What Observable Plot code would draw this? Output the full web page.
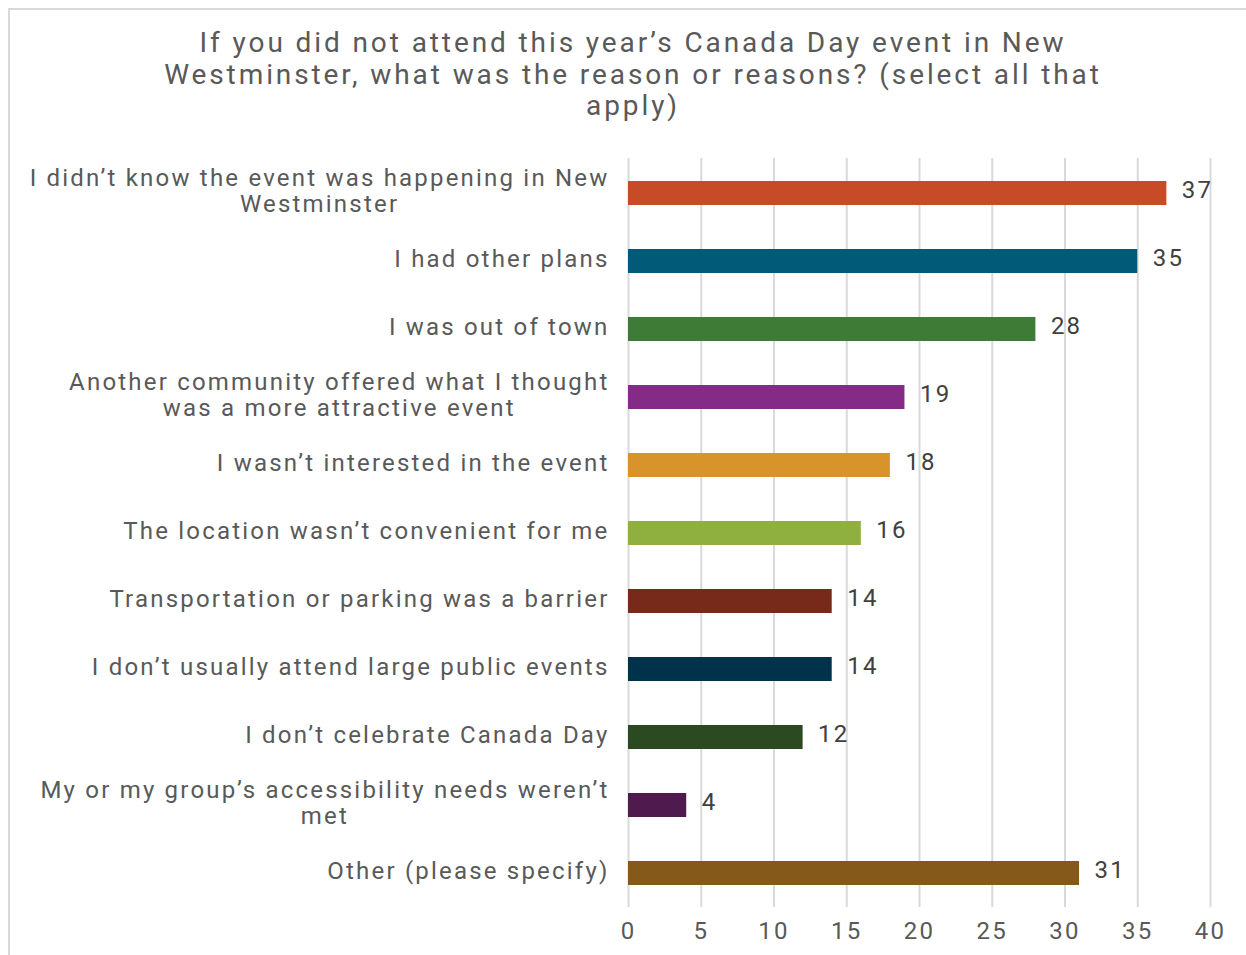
<!DOCTYPE html>
<html>
<head>
<meta charset="utf-8">
<script src="https://cdn.jsdelivr.net/npm/d3@7"></script>
<script src="https://cdn.jsdelivr.net/npm/@observablehq/plot@0.6"></script>
<style>
  html, body { margin: 0; padding: 0; background: #fff; }
  body { width: 1246px; height: 955px; overflow: hidden; position: relative; font-family: Roboto, "Liberation Sans", sans-serif; }
  #frame { position: absolute; left: 8px; top: 8px; width: 1300px; height: 1000px; border: 2px solid #d9d9d9; box-sizing: border-box; }
  #title { position: absolute; left: 0; top: 27px; width: 1266px; text-align: center; font-size: 28px; line-height: 31.5px; color: #595959; letter-spacing: 2.9px; }
  #chart { position: absolute; left: 0; top: 140px; }
  #chart svg text { letter-spacing: 2.2px; }
</style>
</head>
<body>
<div id="frame"></div>
<div id="title">If you did not attend this year’s Canada Day event in New<br>Westminster, what was the reason or reasons? (select all that<br>apply)</div>
<div id="chart"></div>
<script>
const categories = [
  "I didn’t know the event was happening in New\nWestminster",
  "I had other plans",
  "I was out of town",
  "Another community offered what I thought\nwas a more attractive event",
  "I wasn’t interested in the event",
  "The location wasn’t convenient for me",
  "Transportation or parking was a barrier",
  "I don’t usually attend large public events",
  "I don’t celebrate Canada Day",
  "My or my group’s accessibility needs weren’t\nmet",
  "Other (please specify)"
];
const counts = [37, 35, 28, 19, 18, 16, 14, 14, 12, 4, 31];
const barColors = ["#C84B27", "#005A78", "#3E7B37", "#842A87", "#D9932B", "#8FAF3E", "#772A1A", "#003349", "#2C4A22", "#4F1A4E", "#845919"];
const xTicks = [0, 5, 10, 15, 20, 25, 30, 35, 40];

const data = categories.map((c, i) => ({category: c, value: counts[i], color: barColors[i]}));

const chart = Plot.plot({
  width: 1246,
  height: 815,
  marginLeft: 628,
  marginRight: 36,
  marginTop: 18,
  marginBottom: 48,
  style: {fontFamily: "Roboto, 'Liberation Sans', sans-serif", fontSize: "24px", color: "#595959", background: "transparent"},
  x: {type: "linear", domain: [0, 40], label: null},
  y: {type: "band", domain: categories, paddingInner: 0.65, paddingOuter: 0.325, label: null},
  marks: [
    Plot.gridX(xTicks, {stroke: "#d9d9d9", strokeOpacity: 1, strokeWidth: 2}),
    Plot.barX(data, {x: "value", y: "category", fill: "color"}),
    Plot.text(data, {x: "value", y: "category", text: d => String(d.value), textAnchor: "start", dx: 15, dy: -3, fill: "#404040", fontSize: 24}),
    Plot.axisX({ticks: xTicks, tickSize: 0, tickPadding: 14, label: null, fill: "#595959", fontSize: 24}),
    Plot.axisY({tickSize: 0, tickPadding: 19, dy: -3, label: null, fill: "#595959", fontSize: 24, lineHeight: 1.1, textOverflow: null})
  ]
});
document.getElementById("chart").appendChild(chart);

// center wrapped lines of multi-line category labels (like the original)
chart.querySelectorAll("g[aria-label='y-axis tick label'] text").forEach(t => {
  const spans = t.querySelectorAll("tspan");
  if (spans.length > 1) {
    let w = 0;
    spans.forEach(s => { w = Math.max(w, s.getComputedTextLength()); });
    t.setAttribute("text-anchor", "middle");
    spans.forEach(s => s.setAttribute("x", -w / 2));
  }
});
</script>
</body>
</html>
